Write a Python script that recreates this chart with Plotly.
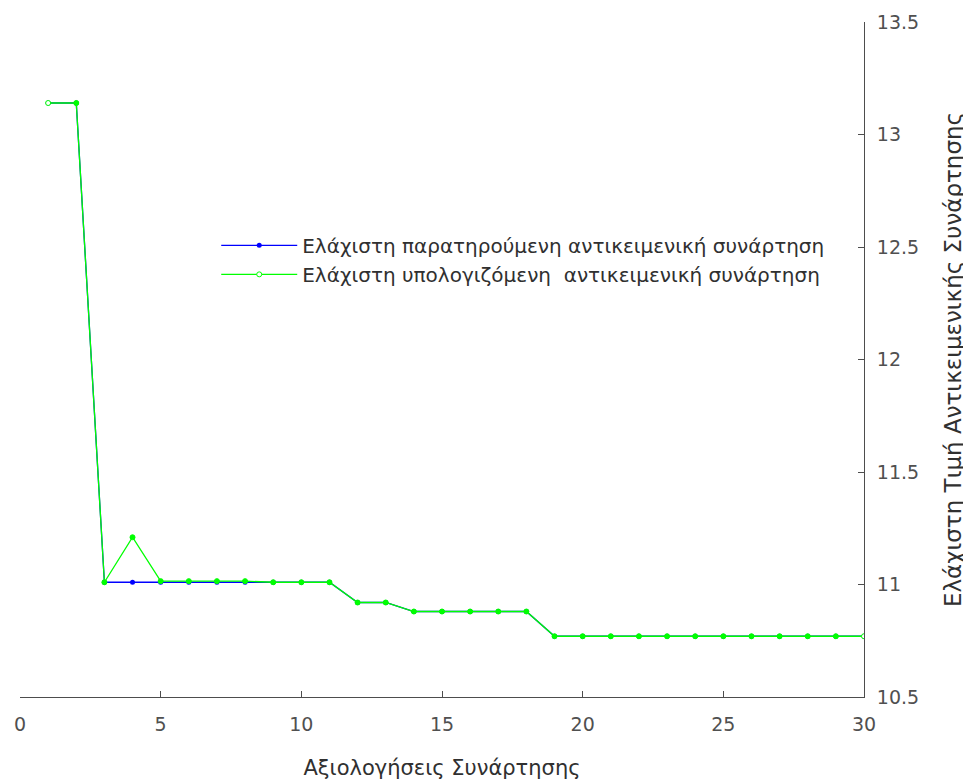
import plotly.graph_objects as go

evaluations = list(range(1, 31))
observed_min = [13.14, 13.14, 11.01, 11.01, 11.01, 11.01, 11.01, 11.01, 11.01, 11.01,
                11.01, 10.92, 10.92, 10.88, 10.88, 10.88, 10.88, 10.88, 10.77, 10.77,
                10.77, 10.77, 10.77, 10.77, 10.77, 10.77, 10.77, 10.77, 10.77, 10.77]
estimated_min = [13.14, 13.14, 11.01, 11.21, 11.015, 11.015, 11.015, 11.015, 11.01, 11.01,
                 11.01, 10.92, 10.92, 10.88, 10.88, 10.88, 10.88, 10.88, 10.77, 10.77,
                 10.77, 10.77, 10.77, 10.77, 10.77, 10.77, 10.77, 10.77, 10.77, 10.77]
name_observed = "Ελάχιστη παρατηρούμενη αντικειμενική συνάρτηση"
name_estimated = "Ελάχιστη υπολογιζόμενη  αντικειμενική συνάρτηση"
x_title = "Αξιολογήσεις Συνάρτησης"
y_title = "Ελάχιστη Τιμή Αντικειμενικής Συνάρτησης"
x_ticks = [0, 5, 10, 15, 20, 25, 30]
y_ticks = [10.5, 11, 11.5, 12, 12.5, 13, 13.5]

n = len(evaluations)
green_fill = ["white"] + ["#00FF00"] * (n - 2) + ["white"]

fig = go.Figure()
fig.add_trace(go.Scatter(
    x=evaluations, y=observed_min, mode="lines+markers", name=name_observed,
    line=dict(color="#0000FF", width=1.3),
    marker=dict(color="#0000FF", size=5),
))
fig.add_trace(go.Scatter(
    x=evaluations, y=estimated_min, mode="lines+markers", name=name_estimated,
    line=dict(color="#00FF00", width=1.3),
    marker=dict(color=green_fill, size=5, line=dict(color="#00FF00", width=1)),
))

tick_font = dict(family="DejaVu Sans, sans-serif", size=19, color="#505050")
fig.update_layout(
    width=971, height=783,
    margin=dict(l=12, r=115, t=14, b=94),
    paper_bgcolor="white", plot_bgcolor="white",
    font=dict(family="DejaVu Sans, sans-serif", size=19, color="#303030"),
    showlegend=True,
    legend=dict(
        x=0.2325, y=0.698, xanchor="left", yanchor="top",
        bgcolor="rgba(255,255,255,0)",
        font=dict(family="DejaVu Sans, sans-serif", size=20, color="#303030"),
        tracegroupgap=0, itemwidth=76,
    ),
    xaxis=dict(
        range=[0, 30], tickvals=x_ticks, ticks="inside", ticklen=6,
        showline=True, linecolor="#4d4d4d", linewidth=1, tickcolor="#4d4d4d",
        showgrid=False, zeroline=False, mirror=False, automargin=False,
        ticklabelstandoff=10,
        title=dict(text=x_title, font=dict(family="DejaVu Sans, sans-serif", size=21, color="#303030"), standoff=26),
        tickfont=tick_font,
    ),
    yaxis=dict(
        range=[10.5, 13.5], tickvals=y_ticks, side="right", ticks="inside", ticklen=6,
        showline=True, linecolor="#4d4d4d", linewidth=1, tickcolor="#4d4d4d",
        showgrid=False, zeroline=False, automargin=False,
        ticklabelstandoff=8,
        title=dict(text=y_title, font=dict(family="DejaVu Sans, sans-serif", size=23, color="#303030"), standoff=26),
        tickfont=tick_font,
    ),
)

fig.write_html("out.html")
